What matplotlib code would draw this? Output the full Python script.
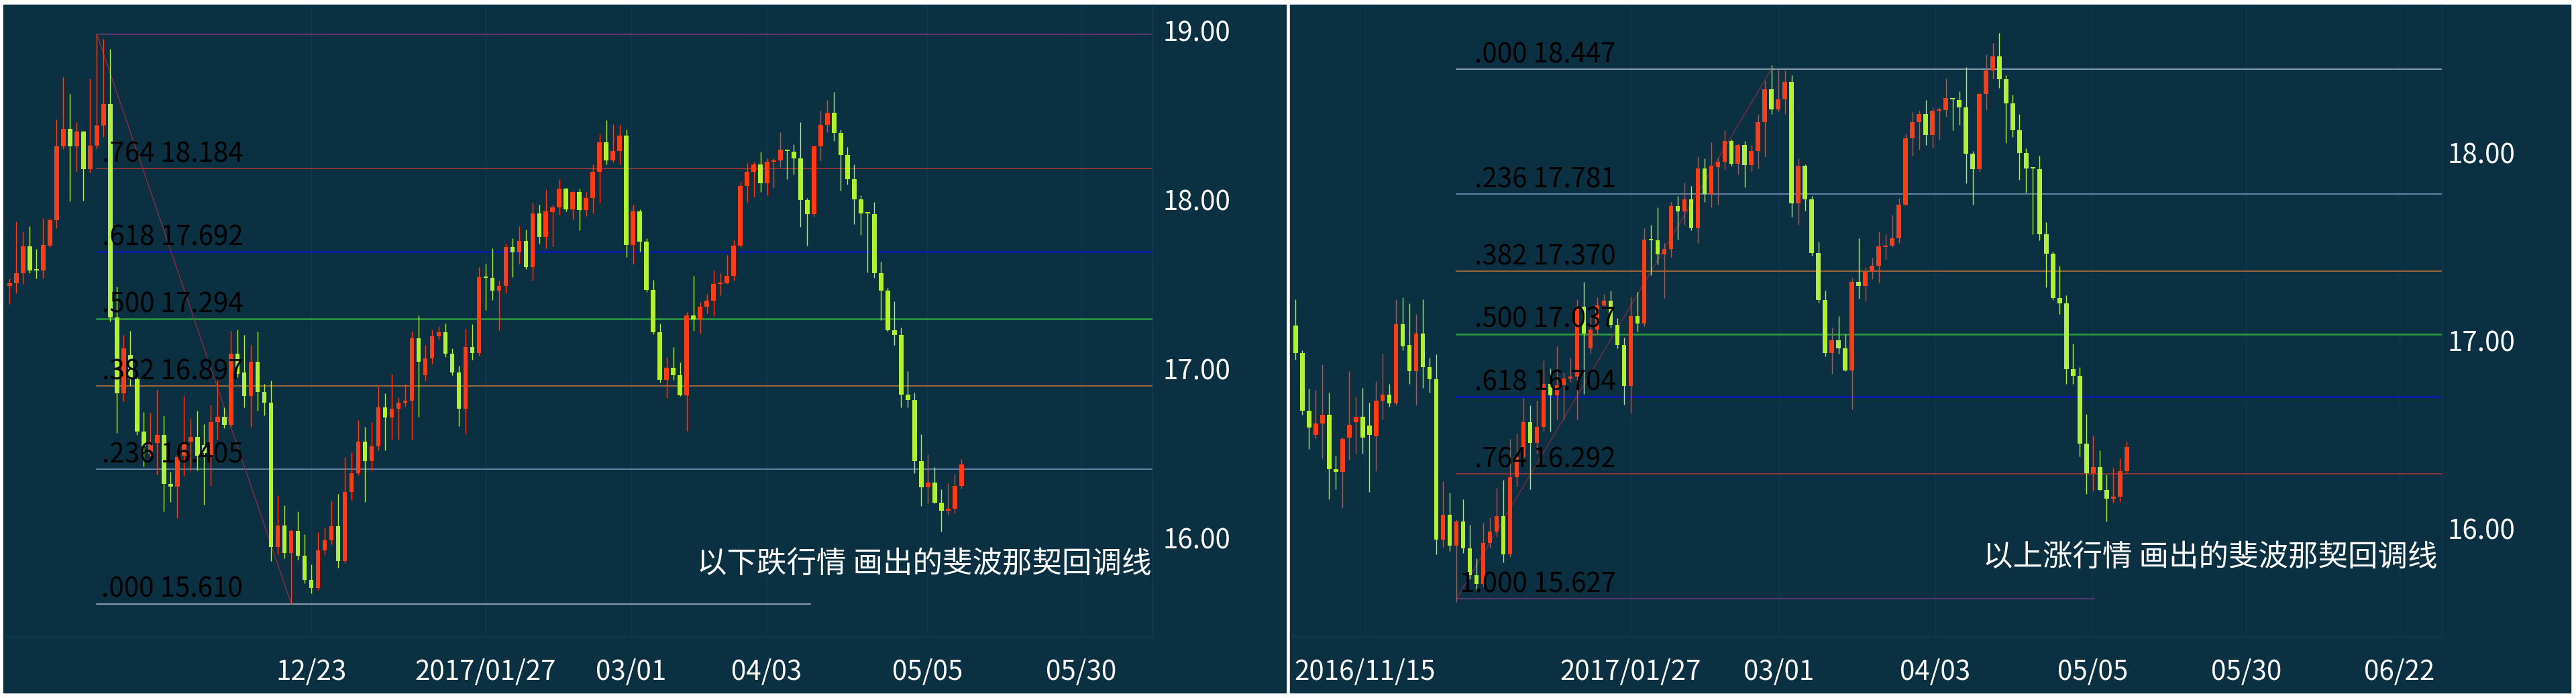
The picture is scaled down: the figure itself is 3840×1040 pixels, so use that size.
import matplotlib
matplotlib.use('Agg')
import matplotlib.pyplot as plt
import numpy as np
from matplotlib.patches import Rectangle

plt.rcParams['font.family'] = ['Noto Sans CJK SC', 'DejaVu Sans']

# daily candles (same series in both panels)
opens = [17.490, 17.507, 17.563, 17.725, 17.584, 17.579, 17.729, 17.877, 18.314, 18.419,
         18.314, 18.402, 18.179, 18.320, 18.437, 18.565, 17.302, 16.854, 17.080, 16.936,
         16.628, 16.498, 16.560, 16.608, 16.318, 16.304, 16.485, 16.567, 16.597, 16.550,
         16.491, 16.683, 16.714, 16.669, 17.089, 16.977, 16.840, 17.039, 16.861, 16.797,
         15.944, 16.074, 15.910, 16.040, 15.896, 15.753, 15.705, 15.924, 15.985, 16.067,
         15.862, 16.273, 16.382, 16.567, 16.455, 16.542, 16.772, 16.710, 16.765, 16.799,
         16.810, 17.180, 16.961, 17.059, 17.190, 17.215, 17.087, 16.978, 16.762, 17.130,
         17.093, 17.540, 17.536, 17.461, 17.490, 17.719, 17.688, 17.754, 17.600, 17.917,
         17.781, 17.926, 17.953, 18.065, 17.943, 18.043, 17.937, 18.010, 18.164, 18.340,
         18.231, 18.287, 18.380, 17.732, 17.930, 17.752, 17.467, 17.216, 16.934, 17.004,
         16.961, 16.842, 17.315, 17.291, 17.368, 17.401, 17.500, 17.507, 17.547, 17.726,
         18.079, 18.165, 18.208, 18.096, 18.225, 18.230, 18.290, 18.282, 18.242, 17.996,
         17.915, 18.315, 18.440, 18.513, 18.394, 18.263, 18.122, 18.001, 17.920, 17.915,
         17.566, 17.463, 17.227, 17.201, 16.848, 16.814, 16.452, 16.297, 16.327, 16.206,
         16.160, 16.172, 16.306]
highs = [17.533, 17.870, 17.811, 17.844, 17.709, 17.890, 17.890, 18.472, 18.724, 18.624,
         18.459, 18.406, 18.717, 18.979, 18.950, 18.889, 17.487, 17.200, 17.222, 16.950,
         16.745, 16.738, 16.875, 16.724, 16.389, 16.490, 16.840, 16.704, 16.751, 16.670,
         16.786, 16.930, 16.770, 17.222, 17.230, 17.200, 17.141, 17.220, 16.909, 16.929,
         16.252, 16.191, 16.050, 16.156, 16.020, 15.842, 16.033, 16.060, 16.218, 16.259,
         16.478, 16.505, 16.697, 16.656, 16.683, 16.895, 16.854, 16.970, 16.830, 16.910,
         17.220, 17.315, 17.140, 17.230, 17.250, 17.269, 17.120, 17.017, 17.236, 17.262,
         17.600, 17.619, 17.712, 17.520, 17.738, 17.772, 17.844, 17.824, 17.983, 17.970,
         18.056, 17.970, 18.122, 18.070, 18.050, 18.063, 18.043, 18.208, 18.387, 18.469,
         18.446, 18.440, 18.413, 17.970, 17.940, 17.772, 17.527, 17.269, 17.070, 17.130,
         17.037, 17.335, 17.547, 17.394, 17.441, 17.580, 17.566, 17.672, 17.760, 18.105,
         18.217, 18.225, 18.282, 18.242, 18.242, 18.397, 18.294, 18.328, 18.457, 18.010,
         18.320, 18.526, 18.587, 18.638, 18.414, 18.311, 18.208, 18.024, 17.920, 17.984,
         17.631, 17.476, 17.399, 17.244, 16.986, 16.860, 16.612, 16.495, 16.418, 16.289,
         16.323, 16.375, 16.464]
lows = [17.381, 17.447, 17.500, 17.563, 17.533, 17.533, 17.720, 17.831, 18.300, 17.990,
        18.168, 17.993, 18.161, 18.300, 18.370, 17.280, 16.621, 16.806, 16.900, 16.608,
        16.423, 16.480, 16.375, 16.157, 16.211, 16.115, 16.368, 16.400, 16.400, 16.197,
        16.307, 16.580, 16.650, 16.656, 16.950, 16.772, 16.656, 16.751, 16.724, 15.862,
        15.903, 15.880, 15.610, 15.870, 15.732, 15.671, 15.691, 15.900, 15.960, 15.821,
        15.850, 16.225, 16.370, 16.211, 16.400, 16.519, 16.519, 16.580, 16.580, 16.780,
        16.580, 16.717, 16.930, 17.030, 17.170, 17.070, 16.960, 16.660, 16.614, 17.051,
        17.077, 17.348, 17.408, 17.229, 17.447, 17.540, 17.619, 17.590, 17.520, 17.738,
        17.712, 17.725, 17.910, 17.930, 17.884, 17.818, 17.904, 17.917, 17.983, 18.208,
        18.220, 18.208, 17.659, 17.619, 17.692, 17.454, 17.203, 16.918, 16.826, 16.932,
        16.840, 16.634, 17.223, 17.209, 17.328, 17.309, 17.434, 17.500, 17.520, 17.720,
        17.984, 18.019, 18.044, 18.027, 18.070, 18.191, 18.122, 18.148, 17.838, 17.726,
        17.898, 18.230, 18.397, 18.346, 18.053, 18.087, 17.855, 17.790, 17.568, 17.537,
        17.287, 17.218, 17.141, 16.771, 16.771, 16.384, 16.186, 16.203, 16.203, 16.039,
        16.137, 16.143, 16.292]
closes = [17.507, 17.566, 17.725, 17.579, 17.580, 17.732, 17.877, 18.314, 18.419, 18.316,
          18.402, 18.179, 18.320, 18.437, 18.565, 17.302, 16.854, 17.121, 16.936, 16.628,
          16.539, 16.560, 16.608, 16.318, 16.304, 16.478, 16.553, 16.597, 16.485, 16.500,
          16.683, 16.714, 16.669, 17.089, 16.970, 16.840, 17.039, 16.861, 16.797, 15.944,
          16.074, 15.910, 16.040, 15.896, 15.753, 15.705, 15.924, 15.985, 16.067, 15.862,
          16.273, 16.382, 16.567, 16.455, 16.542, 16.772, 16.710, 16.765, 16.799, 16.810,
          17.180, 17.039, 17.059, 17.190, 17.215, 17.087, 16.977, 16.762, 17.130, 17.093,
          17.540, 17.536, 17.461, 17.490, 17.719, 17.688, 17.754, 17.600, 17.917, 17.781,
          17.930, 17.953, 18.065, 17.943, 18.043, 17.937, 18.010, 18.164, 18.340, 18.231,
          18.287, 18.380, 17.732, 17.930, 17.752, 17.467, 17.216, 16.934, 17.004, 16.961,
          16.842, 17.315, 17.291, 17.368, 17.401, 17.503, 17.507, 17.547, 17.726, 18.079,
          18.165, 18.208, 18.096, 18.225, 18.230, 18.294, 18.285, 18.242, 17.996, 17.915,
          18.315, 18.440, 18.513, 18.394, 18.263, 18.122, 18.001, 17.919, 17.917, 17.566,
          17.463, 17.227, 17.201, 16.848, 16.814, 16.452, 16.297, 16.327, 16.206, 16.160,
          16.172, 16.306, 16.435]

# fibonacci levels
fib_ratios = ['.000', '.236', '.382', '.500', '.618', '.764', '1.000']
fib_colors = ['#a9bccb', '#7c9cc4', '#c07438', '#2c9c3c', '#0b1e9c', '#a83838', '#6c3a78']
fib_widths = [1.1, 1.1, 1.1, 1.8, 2.2, 1.1, 1.1]
down_levels = [15.610, 16.405, 16.897, 17.294, 17.692, 18.184, 18.979]
up_levels = [18.447, 17.781, 17.370, 17.037, 16.704, 16.292, 15.627]

left_dates = ['12/23', '2017/01/27', '03/01', '04/03', '05/05', '05/30']
left_date_pos = [45.0, 71.0, 92.7, 112.9, 136.9, 159.9]
right_dates = ['2016/11/15', '2017/01/27', '03/01', '04/03', '05/05', '05/30', '06/22']
right_date_pos = [28.3, 68.0, 90.1, 113.4, 136.9, 159.8, 182.7]

BG = '#0a3042'
UP = '#ff3c14'
DOWN = '#b4f032'
FS = 29


def draw_candles(ax):
    o = np.array(opens)
    c = np.array(closes)
    x = np.arange(len(o))
    col = np.where(c >= o, UP, DOWN)
    ax.vlines(x, lows, highs, colors=col, linewidth=1.0, zorder=3)
    body = np.maximum(np.abs(c - o), 0.008)
    ax.bar(x, body, bottom=np.minimum(o, c), width=0.66, color=col, linewidth=0, zorder=4)


def style_axis(ax, xlim, ylim, yticks, ticks, labels, ypad):
    ax.set_facecolor(BG)
    ax.set_xlim(*xlim)
    ax.set_ylim(*ylim)
    ax.set_xticks(ticks)
    ax.set_xticklabels(labels)
    ax.set_yticks(yticks)
    ax.set_yticklabels(['%.2f' % v for v in yticks])
    ax.yaxis.tick_right()
    ax.tick_params(axis='x', length=0, pad=24, labelsize=FS, colors='white')
    ax.tick_params(axis='y', length=0, pad=ypad, labelsize=FS, colors='white')
    ax.grid(axis='x', color='#103a4e', linewidth=1.0, zorder=0)
    for s in ['left', 'top']:
        ax.spines[s].set_visible(False)
    for s in ['right', 'bottom']:
        ax.spines[s].set_color('#123c50')
        ax.spines[s].set_linewidth(1.0)


fig = plt.figure(figsize=(38.4, 10.4), dpi=100, facecolor='white')
fig.patches.append(Rectangle((5 / 3840, 8 / 1040), 1912 / 3840, 1025 / 1040,
                             transform=fig.transFigure, color=BG, zorder=-1))
fig.patches.append(Rectangle((1923 / 3840, 8 / 1040), 1909 / 3840, 1025 / 1040,
                             transform=fig.transFigure, color=BG, zorder=-1))

ax1 = fig.add_axes([5 / 3840, 92 / 1040, 1713 / 3840, 941 / 1040])
ax2 = fig.add_axes([1925 / 3840, 92 / 1040, 1715 / 3840, 941 / 1040])

# ---- left: retracement drawn on the decline
draw_candles(ax1)
style_axis(ax1, (-0.95, 170.5), (15.418, 19.152), [16, 17, 18, 19],
           left_date_pos, left_dates, 11)
for k, lv in enumerate(down_levels):
    end = 119.5 if k == 0 else 170.5
    ax1.plot([13, end], [lv, lv], color=fib_colors[k], lw=fib_widths[k], zorder=2)
    if k < 6:
        ax1.annotate('%s %.3f' % (fib_ratios[k], lv), (34.8, lv), xytext=(0, 7),
                     textcoords='offset points', ha='right', va='baseline',
                     fontsize=FS, color='black', zorder=6)
ax1.plot([13, 42], [down_levels[6], down_levels[0]], color='#8a2c40', lw=1.0, zorder=2)
ax1.text(0.999, 0.115, '以下跌行情 画出的斐波那契回调线', transform=ax1.transAxes,
         ha='right', va='center', fontsize=32, color='white', zorder=7)

# ---- right: retracement drawn on the rally
draw_candles(ax2)
style_axis(ax2, (17.37, 189.0), (15.428, 18.789), [16, 17, 18],
           right_date_pos, right_dates, 6)
for k, lv in enumerate(up_levels):
    end = 137.2 if k == 6 else 189.0
    ax2.plot([42, end], [lv, lv], color=fib_colors[k], lw=fib_widths[k], zorder=2)
    ax2.annotate('%s %.3f' % (fib_ratios[k], lv), (65.8, lv), xytext=(0, 7),
                 textcoords='offset points', ha='right', va='baseline',
                 fontsize=FS, color='black', zorder=6)
ax2.plot([42, 89], [up_levels[6], up_levels[0]], color='#7a2c44', lw=1.0, zorder=2)
ax2.text(0.996, 0.125, '以上涨行情 画出的斐波那契回调线', transform=ax2.transAxes,
         ha='right', va='center', fontsize=32, color='white', zorder=7)

fig.savefig('out.png', dpi=100, facecolor='white')
